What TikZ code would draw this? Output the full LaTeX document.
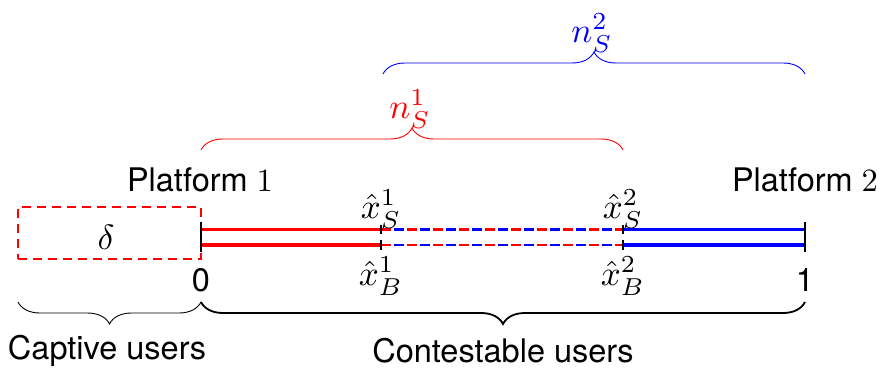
\documentclass[tikz,border=0pt]{standalone}
\usepackage{fontspec}
\newfontfamily\hv{TeX Gyre Heros}
\usetikzlibrary{decorations.pathreplacing}
\begin{document}
\begin{tikzpicture}[x=1pt,y=1pt,
  lbl/.style={scale=3.5, inner sep=0pt},
  sanslbl/.style={scale=3.25, font=\hv, inner sep=0pt},
  bracestyle/.style={decorate, decoration={brace, amplitude=22pt}},
  seg/.style={line width=3.3pt},
  tickmark/.style={line width=1.6pt, black},
  mixdash/.style={line width=2.6pt}]
\useasboundingbox (0,0) rectangle (879,368);
% coordinates
\coordinate (z0u) at (201,138.5);
\coordinate (z0l) at (201,123);
\coordinate (s1) at (381,138.5);
\coordinate (b1) at (381,123);
\coordinate (s2) at (623,138.5);
\coordinate (b2) at (623,123);
\coordinate (o1u) at (805,138.5);
\coordinate (o1l) at (805,123);
% dashed box
\node[draw=red, dashed, line width=1.5pt, dash pattern=on 9pt off 6pt, minimum width=183pt, minimum height=52pt, inner sep=0pt] (box) at (109.5,135) {};
\node[lbl] (delta) at (106,131) {$\delta$};
% solid segments
\draw[seg, red] (z0u) -- (s1);
\draw[seg, red] (z0l) -- (b1);
\draw[seg, blue] (s2) -- (o1u);
\draw[seg, blue] (b2) -- (o1l);
% mixed dashed segments
\draw[mixdash, blue, dash pattern=on 10pt off 3pt] (s1) -- (s2);
\draw[mixdash, red, dash pattern=on 10pt off 16pt] (s1) -- (s2);
\draw[mixdash, blue, dash pattern=on 10pt off 3pt] (b1) -- (b2);
\draw[mixdash, red, dash pattern=on 10pt off 16pt] (b1) -- (b2);
% ticks
\draw[tickmark] (201,146) -- (201,116);
\draw[tickmark] (805,146) -- (805,116);
\draw[tickmark] (381,143) -- (381,134);
\draw[tickmark] (381,128) -- (381,118);
\draw[tickmark] (623,143) -- (623,134);
\draw[tickmark] (623,128) -- (623,118);
% labels
\node[sanslbl] (zero) at (201,88) {0};
\node[sanslbl] (one) at (805,88) {1};
\node[lbl] (xs1) at (381,159) {$\hat{x}_S^1$};
\node[lbl] (xb1) at (381,92) {$\hat{x}_B^1$};
\node[lbl] (xs2) at (623,159) {$\hat{x}_S^2$};
\node[lbl] (xb2) at (623,92) {$\hat{x}_B^2$};
\node[sanslbl] (p1) at (200,188) {Platform {\rmfamily 1}};
\node[sanslbl] (p2) at (805,188) {Platform {\rmfamily 2}};
% bottom braces
\coordinate (cb0) at (18,66);
\coordinate (cb1) at (201,66);
\coordinate (cb2) at (805,66);
\draw[bracestyle, decoration={mirror}, line width=0.9pt] (cb0) -- (cb1);
\draw[bracestyle, decoration={mirror}, line width=1.8pt] (cb1) -- (cb2);
\node[sanslbl] (captive) at (107,17) {Captive users};
\node[sanslbl] (contest) at (503,17) {Contestable users};
% top braces
\coordinate (rb0) at (201,218);
\coordinate (rb1) at (623,218);
\coordinate (bb0) at (383,294);
\coordinate (bb1) at (805,294);
\draw[bracestyle, red, line width=0.9pt] (rb0) -- (rb1);
\draw[bracestyle, blue, line width=0.9pt] (bb0) -- (bb1);
\node[lbl, red] (ns1) at (410,259) {$n_S^1$};
\node[lbl, blue] (ns2) at (592,335) {$n_S^2$};
\end{tikzpicture}
\end{document}
